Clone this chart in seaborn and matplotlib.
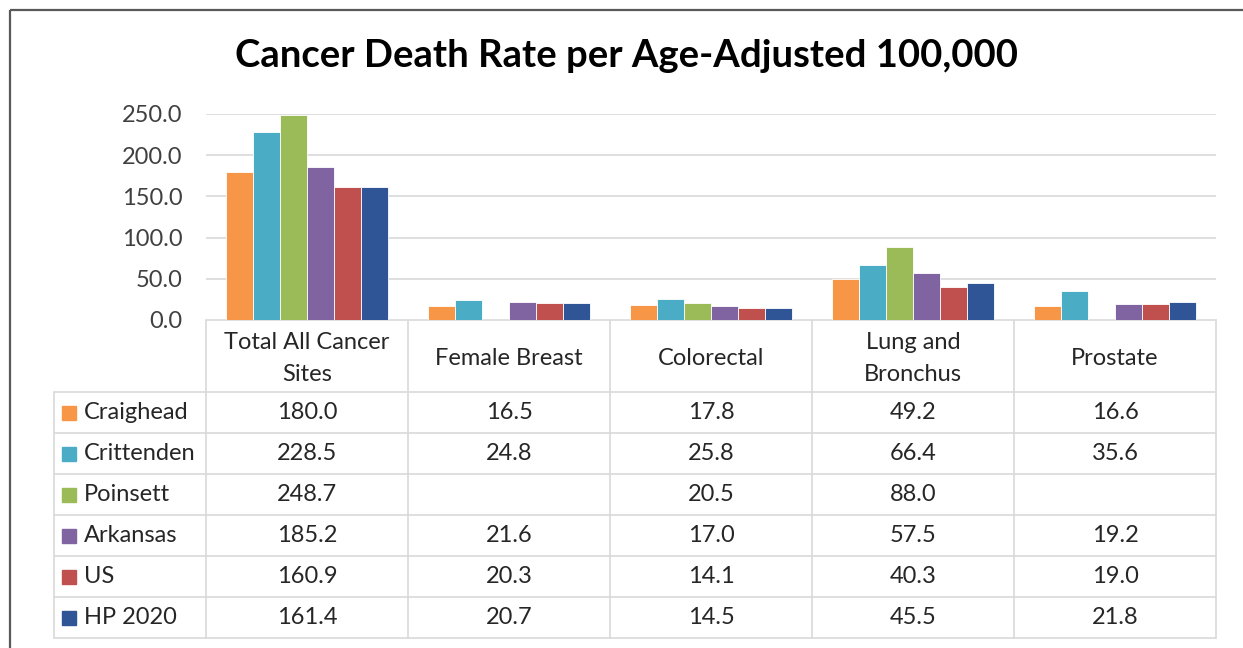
import numpy as np
import pandas as pd
import seaborn as sns
import matplotlib.pyplot as plt
from matplotlib.patches import Rectangle

# chart data
categories = ["Total All Cancer\nSites", "Female Breast", "Colorectal",
              "Lung and\nBronchus", "Prostate"]
regions = ["Craighead", "Crittenden", "Poinsett", "Arkansas", "US", "HP 2020"]
craighead = [180.0, 16.5, 17.8, 49.2, 16.6]
crittenden = [228.5, 24.8, 25.8, 66.4, 35.6]
poinsett = [248.7, None, 20.5, 88.0, None]
arkansas = [185.2, 21.6, 17.0, 57.5, 19.2]
us = [160.9, 20.3, 14.1, 40.3, 19.0]
hp2020 = [161.4, 20.7, 14.5, 45.5, 21.8]
y_ticks = [0, 50, 100, 150, 200, 250]

colors = ["#F79646", "#4BACC6", "#9BBB59", "#8064A2", "#C0504D", "#2F5597"]

values = np.array([craighead, crittenden, poinsett, arkansas, us, hp2020], dtype=float)
df = pd.DataFrame({
    "category": np.tile(categories, len(regions)),
    "region": np.repeat(regions, len(categories)),
    "rate": values.ravel(),
})

sns.set_theme(style="white")
plt.rcParams["font.family"] = ["Lato", "DejaVu Sans"]

W, H = 1243, 648
fig = plt.figure(figsize=(W / 100, H / 100), dpi=100)
fig.patch.set_facecolor("white")

ax = fig.add_axes([206 / W, 1 - 320 / H, (1216 - 206) / W, (320 - 114) / H])
sns.barplot(data=df, x="category", y="rate", hue="region", order=categories,
            hue_order=regions, palette=colors, saturation=1, errorbar=None,
            width=0.8, edgecolor="white", linewidth=0.6, legend=False, ax=ax,
            zorder=3)
ax.set_ylim(0, 250)
ax.set_yticks(y_ticks)
ax.set_yticklabels([f"{t:.1f}" for t in y_ticks], fontsize=17, color="#404040")
ax.tick_params(axis="y", length=0, pad=17)
ax.set_xticks([])
ax.set_xlabel("")
ax.set_ylabel("")
ax.grid(axis="y", color="#D9D9D9", linewidth=1.2, zorder=0)
for s in ax.spines.values():
    s.set_visible(False)

# overlay for title, outer border and data table (pixel coordinates)
ov = fig.add_axes([0, 0, 1, 1], zorder=-1)
ov.set_xlim(0, W)
ov.set_ylim(H, 0)
ov.axis("off")
ov.add_patch(Rectangle((10, 10), W, H, fill=False, edgecolor="#595959", linewidth=1.6))
ov.text(627, 56, "Cancer Death Rate per Age-Adjusted 100,000", ha="center",
        va="center", fontsize=27.5, fontweight="bold", color="black")

col_w = (1216 - 206) / len(categories)
col_x = [206 + col_w * i for i in range(len(categories) + 1)]
head_top, head_bot = 320, 392
row_h = (638 - head_bot) / len(regions)
row_y = [head_bot + row_h * i for i in range(len(regions) + 1)]
grid_c = "#D9D9D9"

ov.plot([col_x[0], col_x[-1]], [head_top, head_top], color=grid_c, lw=1.2)
for y in row_y:
    ov.plot([54, col_x[-1]], [y, y], color=grid_c, lw=1.2)
ov.plot([54, 54], [row_y[0], row_y[-1]], color=grid_c, lw=1.2)
for x in col_x:
    ov.plot([x, x], [head_top, row_y[-1]], color=grid_c, lw=1.2)

txt_c = "#262626"
for i, cat in enumerate(categories):
    cx = (col_x[i] + col_x[i + 1]) / 2
    ov.text(cx, (head_top + head_bot) / 2 + 2.5, cat, ha="center", va="center",
            fontsize=17, color=txt_c, linespacing=1.65)

for r, name in enumerate(regions):
    cy = (row_y[r] + row_y[r + 1]) / 2
    ov.add_patch(Rectangle((62, cy - 7), 14, 14, color=colors[r]))
    ov.text(84, cy, name, ha="left", va="center", fontsize=17, color=txt_c)
    for i in range(len(categories)):
        v = values[r, i]
        if np.isnan(v):
            continue
        cx = (col_x[i] + col_x[i + 1]) / 2
        ov.text(cx, cy, f"{v:.1f}", ha="center", va="center", fontsize=17, color=txt_c)

fig.savefig("out.png", dpi=100, facecolor="white")
